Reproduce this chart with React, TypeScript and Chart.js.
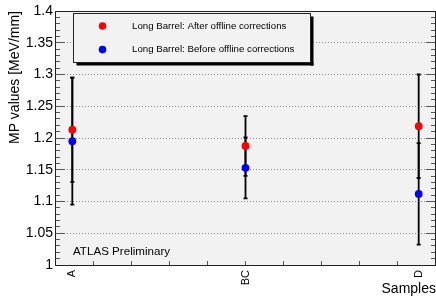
import React, { useEffect, useRef } from 'react';
import { Chart, registerables } from 'chart.js';

Chart.register(...registerables);

// ---- data ----
const categories = ['A', 'BC', 'D'];
const categoryX = [0, 1, 2];
const seriesLabels = [
  'Long Barrel: After offline corrections',
  'Long Barrel: Before offline corrections',
];
const afterValues = [1.213, 1.1875, 1.2185];
const afterErrors = [0.082, 0.047, 0.0815];
const beforeValues = [1.195, 1.153, 1.112];
const beforeErrors = [0.1, 0.048, 0.08];
const yTickValues = [1, 1.05, 1.1, 1.15, 1.2, 1.25, 1.3, 1.35, 1.4];
const yTickLabels = ['1', '1.05', '1.1', '1.15', '1.2', '1.25', '1.3', '1.35', '1.4'];
const yMinorStep = 0.01;
const xMinorStart = -0.1;
const xMinorStep = 0.22;
const annotationText = 'ATLAS Preliminary';
const yTitle = 'MP values [MeV/mm]';
const xTitle = 'Samples';

const FONT = "'Liberation Sans', Arial, Helvetica, sans-serif";
const RED = '#ff0000';
const BLUE = '#0000ff';
const PLOT_BG = '#f2f2f2';

const crisp = (v: number) => Math.round(v - 0.5) + 0.5;

const bgPlugin = {
  id: 'rootBg',
  beforeDraw(chart: any) {
    const { ctx, chartArea: a } = chart;
    ctx.save();
    ctx.fillStyle = '#ffffff';
    ctx.fillRect(0, 0, chart.width, chart.height);
    ctx.fillStyle = PLOT_BG;
    ctx.fillRect(a.left, a.top, a.right - a.left, a.bottom - a.top);
    ctx.restore();
  },
};

const framePlugin = {
  id: 'rootFrame',
  beforeDatasetsDraw(chart: any) {
    const { ctx, chartArea: a, scales } = chart;
    const x = scales.x;
    const y = scales.y;
    const right = Math.min(a.right, chart.width);
    ctx.save();
    // inward tick marks
    ctx.strokeStyle = '#555555';
    ctx.lineWidth = 1;
    ctx.beginPath();
    const yMin = y.min;
    const yMax = y.max;
    const n = Math.round((yMax - yMin) / yMinorStep);
    for (let i = 0; i <= n; i++) {
      const v = yMin + i * yMinorStep;
      const py = crisp(y.getPixelForValue(v));
      const len = i % 5 === 0 ? 10 : 5;
      ctx.moveTo(a.left, py);
      ctx.lineTo(a.left + len, py);
      ctx.moveTo(right, py);
      ctx.lineTo(right - len, py);
    }
    for (let k = 1; ; k++) {
      const v = xMinorStart + k * xMinorStep;
      if (v >= x.max - 1e-6) break;
      const px = crisp(x.getPixelForValue(v));
      ctx.moveTo(px, a.bottom);
      ctx.lineTo(px, a.bottom - 4);
    }
    ctx.stroke();
    // frame
    ctx.strokeStyle = '#222222';
    ctx.beginPath();
    ctx.rect(crisp(a.left), crisp(a.top), Math.round(right - a.left) - 1, Math.round(a.bottom - a.top));
    ctx.stroke();
    // error bars
    ctx.strokeStyle = '#000000';
    ctx.lineWidth = 1.8;
    chart.data.datasets.forEach((ds: any) => {
      ds.data.forEach((p: any) => {
        const px = x.getPixelForValue(p.x);
        const t = y.getPixelForValue(p.y + p.err);
        const b = y.getPixelForValue(p.y - p.err);
        ctx.beginPath();
        ctx.moveTo(px, t);
        ctx.lineTo(px, b);
        ctx.moveTo(px - 2, t);
        ctx.lineTo(px + 2, t);
        ctx.moveTo(px - 2, b);
        ctx.lineTo(px + 2, b);
        ctx.stroke();
      });
    });
    ctx.restore();
  },
};

const legendPlugin = {
  id: 'rootLegend',
  afterDatasetsDraw(chart: any) {
    const { ctx, chartArea: a } = chart;
    const bx = a.left + 18.5;
    const by = a.top + 2.5;
    const bw = 237;
    const bh = 49;
    ctx.save();
    // shadow
    ctx.fillStyle = '#000000';
    ctx.fillRect(bx + 3, by + bh, bw, 3);
    ctx.fillRect(bx + bw, by + 3, 3, bh);
    ctx.fillStyle = PLOT_BG;
    ctx.fillRect(bx, by, bw, bh);
    ctx.strokeStyle = '#222222';
    ctx.lineWidth = 1;
    ctx.strokeRect(bx, by, bw, bh);
    ctx.font = `9.7px ${FONT}`;
    ctx.textBaseline = 'middle';
    ctx.textAlign = 'left';
    chart.data.datasets.forEach((ds: any, i: number) => {
      const cy = by + 12.5 + i * 23.6;
      ctx.fillStyle = ds.backgroundColor;
      ctx.beginPath();
      ctx.arc(bx + 29, cy, 3.8, 0, Math.PI * 2);
      ctx.fill();
      ctx.fillStyle = '#000000';
      ctx.fillText(seriesLabels[i], bx + 58.5, cy);
    });
    // annotation
    ctx.font = `11.6px ${FONT}`;
    ctx.fillText(annotationText, a.left + 18, a.bottom - 13);
    ctx.restore();
  },
};

export default function App() {
  const ref = useRef<HTMLCanvasElement | null>(null);
  useEffect(() => {
    if (!ref.current) return;
    const chart = new Chart(ref.current, {
      type: 'scatter',
      data: {
        datasets: [
          {
            label: seriesLabels[0],
            data: categoryX.map((x, i) => ({ x, y: afterValues[i], err: afterErrors[i] })) as any,
            backgroundColor: RED,
            borderColor: RED,
            pointRadius: 3.9,
            pointBorderWidth: 0,
          },
          {
            label: seriesLabels[1],
            data: categoryX.map((x, i) => ({ x, y: beforeValues[i], err: beforeErrors[i] })) as any,
            backgroundColor: BLUE,
            borderColor: BLUE,
            pointRadius: 3.9,
            pointBorderWidth: 0,
          },
        ],
      },
      options: {
        animation: false,
        responsive: false,
        devicePixelRatio: 1,
        layout: { autoPadding: false, padding: { top: 11, right: 0, left: 0, bottom: 0 } },
        plugins: { legend: { display: false }, tooltip: { enabled: false } },
        scales: {
          x: {
            type: 'linear',
            min: -0.1,
            max: 2.1,
            afterBuildTicks: (scale: any) => {
              scale.ticks = categoryX.map((v) => ({ value: v }));
            },
            afterFit: (scale: any) => {
              scale.height = 31;
              scale.paddingLeft = 0;
              scale.paddingRight = 0;
            },
            grid: { display: false, drawTicks: false, tickLength: 0 },
            border: { display: false },
            ticks: {
              autoSkip: false,
              minRotation: 90,
              maxRotation: 90,
              padding: 5,
              color: '#000',
              font: { family: FONT, size: 11 },
              callback: (_v: any, i: number) => categories[i],
            },
            title: {
              display: true,
              text: xTitle,
              align: 'end',
              color: '#000',
              font: { family: FONT, size: 14, lineHeight: 1 },
              padding: { top: 0, bottom: 0 },
            },
          },
          y: {
            type: 'linear',
            min: 1,
            max: 1.4,
            afterBuildTicks: (scale: any) => {
              scale.ticks = yTickValues.map((v) => ({ value: v }));
            },
            afterFit: (scale: any) => {
              scale.width = 55;
              scale.paddingTop = 0;
              scale.paddingBottom = 0;
            },
            grid: { color: '#8a8a8a', lineWidth: 1, drawTicks: false, tickLength: 0 },
            border: { display: false, dash: [1, 2] },
            ticks: {
              padding: 2,
              color: '#000',
              font: { family: FONT, size: 14 },
              callback: (_v: any, i: number) => yTickLabels[i],
            },
            title: {
              display: true,
              text: yTitle,
              align: 'end',
              color: '#000',
              font: { family: FONT, size: 14, lineHeight: 1 },
              padding: { top: 8.5, bottom: 0 },
            },
          },
        },
      } as any,
      plugins: [bgPlugin, framePlugin, legendPlugin],
    });
    return () => chart.destroy();
  }, []);
  return (
    <div style={{ position: 'absolute', left: 0, top: 0, width: 436, height: 296 }}>
      <canvas ref={ref} width={436} height={296} />
    </div>
  );
}
